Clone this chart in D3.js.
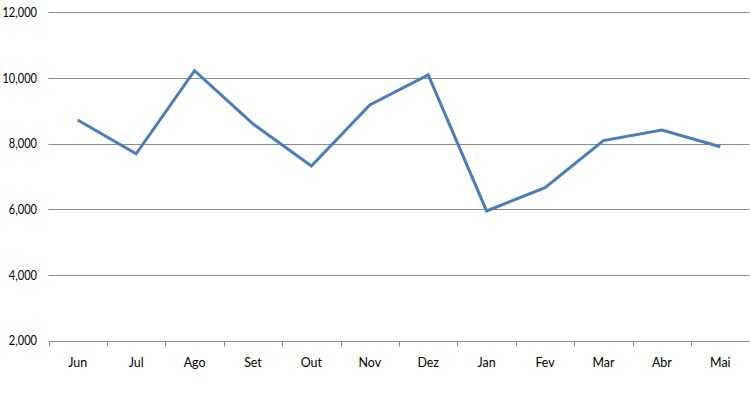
<!DOCTYPE html>
<html><head><meta charset="utf-8">
<script src="https://cdn.jsdelivr.net/npm/d3@7"></script>
<style>body{margin:0;background:#fff;} svg{display:block;} text{font-family:"Lato","Open Sans",sans-serif;font-size:13.5px;fill:#000;}</style>
</head><body><svg id="c" width="750" height="412"></svg>
<script>
const categories = ["Jun","Jul","Ago","Set","Out","Nov","Dez","Jan","Fev","Mar","Abr","Mai"];
const values = [8720, 7690, 10220, 8600, 7320, 9175, 10090, 5950, 6660, 8090, 8415, 7905];
const yTicks = [2000, 4000, 6000, 8000, 10000, 12000];

(function () {
const svg = d3.select("#c");
const mLeft = 48.5, mRight = 749.5, mTop = 12.2, mBottom = 340.7;
const x = d3.scaleBand().domain(categories).range([mLeft, mRight]);
const y = d3.scaleLinear().domain([2000, 12000]).range([mBottom, mTop]);
const fmt = d3.format(",");
const FONT = "'Lato','Open Sans',sans-serif";
const condense = (sel, k) => sel.each(function () {
  const w = this.getComputedTextLength();
  d3.select(this).attr("textLength", w * k).attr("lengthAdjust", "spacingAndGlyphs");
});

// gridlines
svg.append("g").selectAll("line").data(yTicks.filter(t => t > 2000)).join("line")
  .attr("x1", mLeft).attr("x2", mRight)
  .attr("y1", d => Math.round(y(d)) + 0.5).attr("y2", d => Math.round(y(d)) + 0.5)
  .attr("stroke", "#8c8c8c").attr("stroke-width", 1.2);

// y labels
svg.append("g").selectAll("text").data(yTicks).join("text")
  .attr("x", 37).attr("y", d => y(d)).attr("dy", "0.35em")
  .attr("text-anchor", "end").text(d => fmt(d))
  .call(condense, 0.82);

// x axis
const xAxis = d3.axisBottom(x).tickSize(0).tickPadding(16);
const gx = svg.append("g").attr("transform", `translate(0,${Math.round(mBottom)+0.5})`).call(xAxis);
gx.select(".domain").attr("stroke", "#8c8c8c").attr("stroke-width", 1.2).attr("d", `M${mLeft},0H${mRight}`);
gx.selectAll(".tick text").style("font-family", FONT).style("font-size", "13.5px").attr("fill", "#000")
  .call(condense, 0.92);
// boundary ticks
const bounds = categories.map(c => x(c)).concat([x.range()[1]]);
gx.append("g").selectAll("line").data(bounds).join("line")
  .attr("x1", d => Math.round(d) + 0.5).attr("x2", d => Math.round(d) + 0.5)
  .attr("y1", 0).attr("y2", 5).attr("stroke", "#8c8c8c").attr("stroke-width", 1);

// line
const line = d3.line().x((d, i) => x(categories[i]) + x.bandwidth() / 2).y(d => y(d));
svg.append("path").datum(values).attr("d", line)
  .attr("fill", "none").attr("stroke", "#4a7ebb").attr("stroke-width", 3)
  .attr("stroke-linejoin", "miter").attr("stroke-linecap", "butt");
})();
</script></body></html>
